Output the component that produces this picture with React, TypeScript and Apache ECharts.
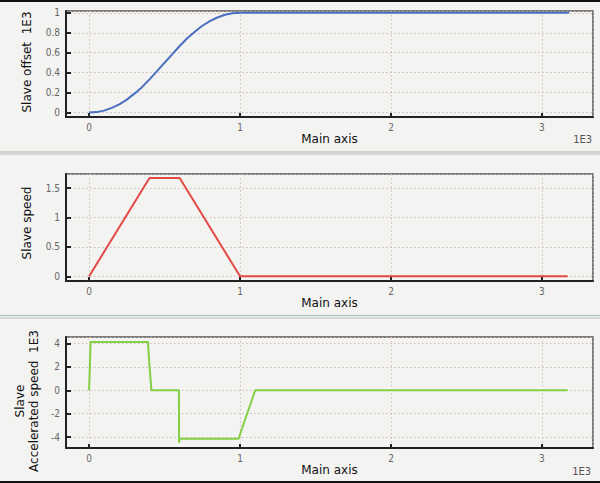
import React, { useEffect, useRef } from "react";
import * as echarts from "echarts";

// Main axis positions (units of 1E3) and values
const offsetMain = [0, 0.05, 0.1, 0.15, 0.2, 0.25, 0.3, 0.35, 0.4, 0.45, 0.5, 0.55, 0.6, 0.65, 0.7, 0.75, 0.8, 0.85, 0.9, 0.95, 1.0, 3.18];
const slaveOffset = [0, 0.005, 0.02, 0.047, 0.083, 0.13, 0.19, 0.255, 0.333, 0.415, 0.5, 0.583, 0.667, 0.745, 0.81, 0.87, 0.917, 0.953, 0.98, 0.995, 1.0, 1.0];

const speedMain = [0, 0.4, 0.6, 1.0, 3.17];
const slaveSpeed = [0, 1.67, 1.67, 0, 0];

const accelMain = [0, 0.01, 0.39, 0.397, 0.413, 0.595, 0.596, 0.6, 0.99, 1.1, 3.17];
const slaveAccel = [0, 4.15, 4.15, 2.6, 0, 0, -4.5, -4.15, -4.15, 0, 0];

const xTicks = [0, 1, 2, 3];
const xName = "Main axis";
const yNames = ["Slave offset\u00a0\u00a01E3", "Slave speed", "Slave\nAccelerated speed\u00a0\u00a01E3"];
const unitLabel = "1E3";

const pairs = (xs: number[], ys: number[]) => xs.map((x, i) => [x, ys[i]]);

const grids = [
  { left: 66, top: 11, width: 527, height: 106 },
  { left: 66, top: 174, width: 527, height: 107 },
  { left: 66, top: 337, width: 527, height: 111 },
];
const yRanges = [
  { min: -0.044, max: 1.018, step: 0.2 },
  { min: -0.08, max: 1.739, step: 0.5 },
  { min: -4.94, max: 4.57, step: 2 },
];
const nameGaps = [14, 12, 12];

const labelFont = "'DejaVu Sans Condensed', 'DejaVu Sans', sans-serif";
const nameFont = "'DejaVu Sans', sans-serif";
const gridLine = { color: "#d2b8b8", type: [1.5, 2.5] as any, width: 1 };

export default function App() {
  const ref = useRef<HTMLDivElement>(null);
  useEffect(() => {
    if (!ref.current) return;
    const chart = echarts.init(ref.current, undefined, { renderer: "svg" });
    const xAxis = grids.map((_, i) => ({
      type: "value",
      gridIndex: i,
      min: -0.153,
      max: 3.338,
      splitNumber: 3,
      minInterval: xTicks[1] - xTicks[0],
      maxInterval: xTicks[1] - xTicks[0],
      name: xName,
      nameLocation: "middle",
      nameGap: nameGaps[i],
      nameTextStyle: { color: "#111", fontSize: 12, fontFamily: nameFont },
      axisLine: { show: true, onZero: false, lineStyle: { color: "#222", width: 2 } },
      axisTick: { show: true, inside: true, length: 4, lineStyle: { color: "#222", width: 2 } },
      axisLabel: { color: "#666", fontSize: 10, margin: 5, fontFamily: labelFont, showMinLabel: false, showMaxLabel: false },
      splitLine: { show: true, lineStyle: gridLine },
    }));
    const yAxis = yRanges.map((r, i) => ({
      type: "value",
      gridIndex: i,
      min: r.min,
      max: r.max,
      minInterval: r.step,
      maxInterval: r.step,
      axisLine: { show: true, onZero: false, lineStyle: { color: "#222", width: 2 } },
      axisTick: { show: true, inside: true, length: 5, lineStyle: { color: "#222", width: 2 } },
      axisLabel: { color: "#666", fontSize: 10, margin: 6, fontFamily: labelFont, showMinLabel: false, showMaxLabel: false },
      splitLine: { show: true, lineStyle: gridLine },
    }));
    const lineSeries = (i: number, data: number[][], color: string) => ({
      type: "line",
      xAxisIndex: i,
      yAxisIndex: i,
      data,
      showSymbol: false,
      symbol: "none",
      lineStyle: { color, width: 2 },
      clip: false,
    });
    chart.setOption({
      animation: false,
      backgroundColor: "#f3f3f2",
      grid: grids.map((g) => ({ ...g, show: true, borderColor: "#555", borderWidth: 1.5, backgroundColor: "transparent" })),
      xAxis,
      yAxis,
      series: [
        lineSeries(0, pairs(offsetMain, slaveOffset), "#4a6fc0"),
        lineSeries(1, pairs(speedMain, slaveSpeed), "#e44a44"),
        lineSeries(2, pairs(accelMain, slaveAccel), "#84d044"),
      ],
      graphic: [
        { type: "rect", shape: { x: 0, y: 0, width: 600, height: 2 }, style: { fill: "#111" } },
        { type: "rect", shape: { x: 0, y: 481, width: 600, height: 2 }, style: { fill: "#111" } },
        { type: "line", shape: { x1: 0, y1: 152, x2: 600, y2: 152 }, style: { stroke: "#c0a8a8", lineWidth: 1 } },
        { type: "line", shape: { x1: 0, y1: 154, x2: 600, y2: 154 }, style: { stroke: "#a8bcc6", lineWidth: 1 } },
        { type: "line", shape: { x1: 0, y1: 315.5, x2: 600, y2: 315.5 }, style: { stroke: "#a8bcc6", lineWidth: 1 } },
        { type: "line", shape: { x1: 0, y1: 318, x2: 600, y2: 318 }, style: { stroke: "#b8b8c0", lineWidth: 1 } },
        {
          type: "text", x: 27, y: 62, rotation: Math.PI / 2,
          style: { text: yNames[0], fill: "#111", font: `12px ${nameFont}`, align: "center", verticalAlign: "middle" },
        },
        {
          type: "text", x: 27, y: 223, rotation: Math.PI / 2,
          style: { text: yNames[1], fill: "#111", font: `12px ${nameFont}`, align: "center", verticalAlign: "middle" },
        },
        {
          type: "text", x: 27, y: 401, rotation: Math.PI / 2,
          style: { text: yNames[2], fill: "#111", font: `12px ${nameFont}`, align: "center", verticalAlign: "middle", lineHeight: 14 },
        },
        {
          type: "text", x: 592, y: 139,
          style: { text: unitLabel, fill: "#555", font: `11px ${labelFont}`, align: "right", verticalAlign: "middle" },
        },
        {
          type: "text", x: 591, y: 471,
          style: { text: unitLabel, fill: "#555", font: `11px ${labelFont}`, align: "right", verticalAlign: "middle" },
        },
      ],
    });
    return () => chart.dispose();
  }, []);
  return <div ref={ref} style={{ position: "fixed", left: 0, top: 0, width: 600, height: 483 }} />;
}
